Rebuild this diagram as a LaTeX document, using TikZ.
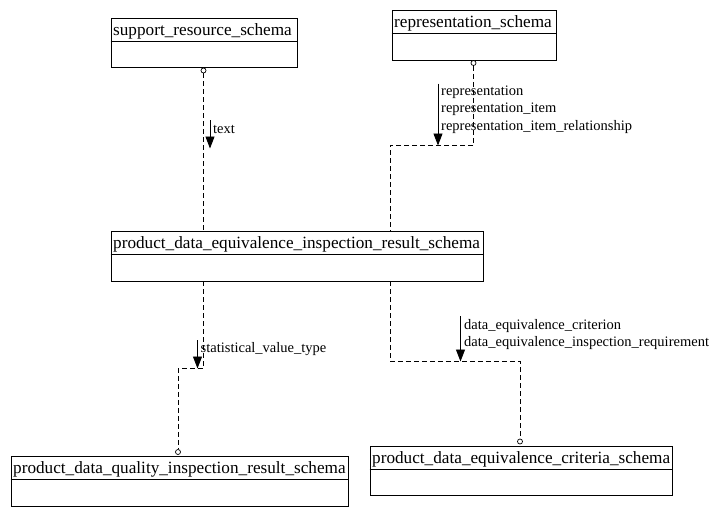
\documentclass[tikz,border=0pt]{standalone}
\usepackage{fontspec}
\setmainfont{Liberation Serif}
\usetikzlibrary{arrows.meta}
\begin{document}
\begin{tikzpicture}[x=1pt,y=-1pt,
  schema/.style={draw,line width=0.9pt,rectangle,anchor=north west,inner sep=0pt},
  title/.style={anchor=west,inner sep=0pt,font=\fontsize{17.2}{19}\selectfont},
  lbl/.style={anchor=west,inner sep=0pt,font=\fontsize{14.5}{16}\selectfont},
  dep/.style={line width=0.8pt,dash pattern=on 5pt off 3pt},
  circ/.style={draw,circle,line width=0.7pt,minimum size=5pt,inner sep=0pt,fill=white},
  ref/.style={line width=0.9pt,-{Triangle[length=12pt,width=9pt]}}]
\useasboundingbox (0,0) rectangle (721,515);

% schema boxes: outer frame, title and divider
\newcommand{\schemabox}[6]{%
  \node[schema,minimum width=#4,minimum height=#5] (#1) at (#2,#3) {};
  \node[title] (#1-t) at ([xshift=2.5pt,yshift=-13.5pt]#1.north west) {#6};
  \draw[line width=0.9pt] ([yshift=-24pt]#1.north west) -- ([yshift=-24pt]#1.north east);}

\schemabox{srs}{110.5}{17.5}{186}{49}{support\_resource\_schema}
\schemabox{rs}{391.5}{9.5}{164}{50}{representation\_schema}
\schemabox{pdeirs}{110.5}{230.5}{372}{50}{product\_data\_equivalence\_inspection\_result\_schema}
\schemabox{pdqirs}{10.5}{455.5}{337}{50}{product\_data\_quality\_inspection\_result\_schema}
\schemabox{pdecs}{369.5}{445.5}{302}{49}{product\_data\_equivalence\_criteria\_schema}

% interface ends
\node[circ] (c1) at (203.5,70.5) {};
\node[circ] (c2) at (473.5,63) {};
\node[circ] (c3) at (178,452) {};
\node[circ] (c4) at (520,441.5) {};

% bend points
\coordinate (b2a) at (473.5,145.5);
\coordinate (b2b) at (390,145.5);
\coordinate (b3a) at (203.5,368.5);
\coordinate (b3b) at (178,368.5);
\coordinate (b4a) at (390,361.5);
\coordinate (b4b) at (520,361.5);

% dependency lines
\draw[dep] (c1.south) -- (c1.south |- pdeirs.north);
\draw[dep] (c2.south) -- (b2a) -- (b2b) -- (b2b |- pdeirs.north);
\draw[dep] (b3a |- pdeirs.south) -- (b3a) -- (b3b) -- (c3.north);
\draw[dep] (b4a |- pdeirs.south) -- (b4a) -- (b4b) -- (c4.north);

% referenced items
\coordinate (a1s) at (210,120);
\coordinate (a1e) at (210,148.5);
\draw[ref] (a1s) -- (a1e);
\node[lbl] (l1) at (213,129) {text};

\coordinate (a2s) at (438,83.5);
\coordinate (a2e) at (438,145.5);
\draw[ref] (a2s) -- (a2e);
\node[lbl] (l2a) at (441,92) {representation};
\node[lbl] (l2b) at (441,109.5) {representation\_item};
\node[lbl] (l2c) at (441,127) {representation\_item\_relationship};

\coordinate (a3s) at (197.5,340);
\coordinate (a3e) at (197.5,368.5);
\draw[ref] (a3s) -- (a3e);
\node[lbl] (l3) at (200.5,349) {statistical\_value\_type};

\coordinate (a4s) at (460.5,316);
\coordinate (a4e) at (460.5,361.5);
\draw[ref] (a4s) -- (a4e);
\node[lbl] (l4a) at (464,326) {data\_equivalence\_criterion};
\node[lbl] (l4b) at (464,343.5) {data\_equivalence\_inspection\_requirement};
\end{tikzpicture}
\end{document}
